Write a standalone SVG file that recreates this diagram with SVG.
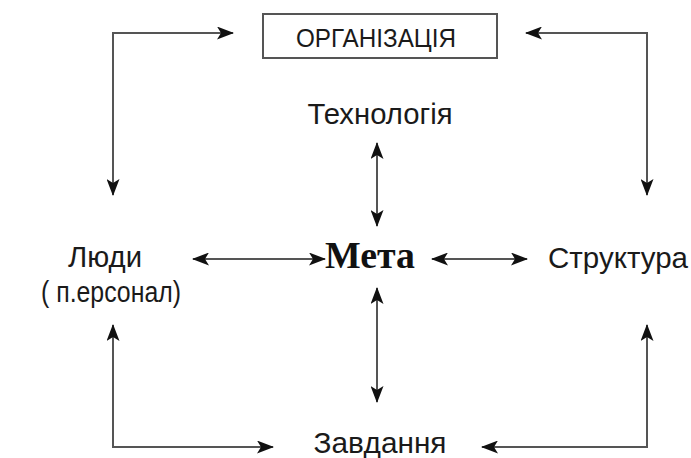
<svg xmlns="http://www.w3.org/2000/svg" width="691" height="458" viewBox="0 0 691 458">
<style>
.s{font-family:"Liberation Sans",Arial,sans-serif;fill:#1a1a1a;text-anchor:middle}
.c{fill:none;stroke:#555;stroke-width:2}
</style>
<defs>
<marker id="a" markerUnits="userSpaceOnUse" markerWidth="17" markerHeight="13" refX="16" refY="6.5" orient="auto-start-reverse">
<path d="M0,0 L17,6.5 L0,13 L4,6.5 Z" fill="#111"/>
</marker>
</defs>
<rect width="691" height="458" fill="#fff"/>
<g id="connectors">
<polyline class="c" points="113,195 113,33 233,33" marker-start="url(#a)" marker-end="url(#a)"/>
<polyline class="c" points="647,195 647,33 526,33" marker-start="url(#a)" marker-end="url(#a)"/>
<polyline class="c" points="113,325 113,447 273,447" marker-start="url(#a)" marker-end="url(#a)"/>
<polyline class="c" points="647,325 647,447 482,447" marker-start="url(#a)" marker-end="url(#a)"/>
<line class="c" x1="377" y1="143" x2="377" y2="226" marker-start="url(#a)" marker-end="url(#a)"/>
<line class="c" x1="377" y1="288" x2="377" y2="402" marker-start="url(#a)" marker-end="url(#a)"/>
<line class="c" x1="193" y1="259" x2="325" y2="259" marker-start="url(#a)" marker-end="url(#a)"/>
<line class="c" x1="432" y1="259" x2="527" y2="259" marker-start="url(#a)" marker-end="url(#a)"/>
</g>
<g id="org">
<rect x="263" y="14" width="234" height="44" fill="#fff" stroke="#555" stroke-width="2"/>
<text class="s" x="376" y="47" font-size="26" textLength="160" lengthAdjust="spacingAndGlyphs">ОРГАНІЗАЦІЯ</text>
</g>
<g id="tech">
<text class="s" x="380" y="124" font-size="30" textLength="145" lengthAdjust="spacingAndGlyphs">Технологія</text>
</g>
<g id="people">
<text class="s" x="105" y="267" font-size="30" textLength="74" lengthAdjust="spacingAndGlyphs">Люди</text>
<text class="s" x="111" y="302" font-size="30" textLength="140" lengthAdjust="spacingAndGlyphs">( п.ерсонал)</text>
</g>
<g id="goal">
<text x="370" y="268" font-family="'Liberation Serif','Times New Roman',serif" font-weight="bold" font-size="37" fill="#111" text-anchor="middle" textLength="90" lengthAdjust="spacingAndGlyphs">Мета</text>
</g>
<g id="structure">
<text class="s" x="618" y="268" font-size="30" textLength="140" lengthAdjust="spacingAndGlyphs">Структура</text>
</g>
<g id="tasks">
<text class="s" x="380" y="453" font-size="30" textLength="133" lengthAdjust="spacingAndGlyphs">Завдання</text>
</g>
</svg>
